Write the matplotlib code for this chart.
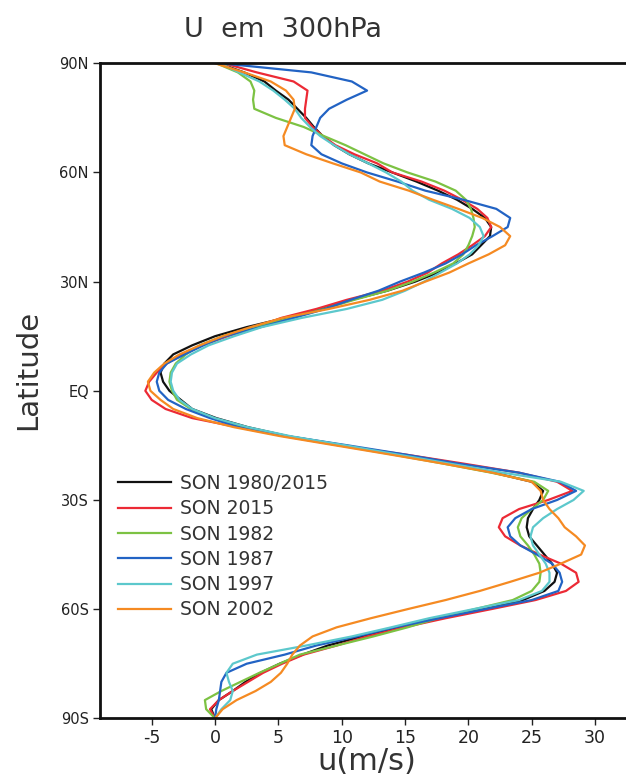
import matplotlib
matplotlib.use("Agg")
import matplotlib.pyplot as plt

lat = [90, 87.5, 85, 82.5, 80, 77.5, 75, 72.5, 70, 67.5, 65, 62.5, 60, 57.5, 55, 52.5,
       50, 47.5, 45, 42.5, 40, 37.5, 35, 32.5, 30, 27.5, 25, 22.5, 20, 17.5, 15, 12.5,
       10, 7.5, 5, 2.5, 0, -2.5, -5, -7.5, -10, -12.5, -15, -17.5, -20, -22.5, -25,
       -27.5, -30, -32.5, -35, -37.5, -40, -42.5, -45, -47.5, -50, -52.5, -55, -57.5,
       -60, -62.5, -65, -67.5, -70, -72.5, -75, -77.5, -80, -82.5, -85, -87.5, -90]

u_mean = [0.3, 2.3, 3.9, 4.8, 5.8, 6.5, 7.2, 7.8, 8.5, 9.4, 10.6, 12.1, 14.0, 15.9, 17.6, 19.1,
          20.3, 21.3, 21.8, 21.7, 21.0, 20.3, 19.0, 17.6, 15.8, 13.6, 10.8, 8.3, 5.5, 2.5, 0.0, -1.8,
          -3.3, -4.0, -4.3, -4.1, -3.6, -2.7, -1.8, 0.1, 2.6, 5.8, 10.2, 14.3, 18.3, 22.0, 25.0,
          25.9, 25.6, 25.1, 24.7, 24.6, 24.8, 25.4, 26.0, 26.6, 27.0, 26.8, 26.0, 24.3,
          21.2, 17.6, 14.4, 11.6, 8.9, 6.9, 5.1, 3.6, 2.4, 1.4, 0.3, -0.3, 0.0]

u_2015 = [0.7, 3.3, 6.2, 7.3, 7.2, 7.1, 7.1, 7.7, 8.5, 9.5, 11.0, 12.8, 14.0, 16.3, 18.1, 19.5,
          20.7, 21.5, 21.8, 21.3, 20.3, 19.2, 17.9, 16.8, 15.2, 13.2, 10.4, 8.0, 5.2, 3.3, 1.0, -1.0,
          -2.6, -3.8, -4.6, -5.2, -5.5, -5.0, -3.9, -1.8, 1.8, 5.5, 9.8, 15.0, 19.6, 24.0, 27.0,
          28.2, 26.3, 24.0, 22.7, 22.4, 22.9, 24.1, 25.6, 27.3, 28.5, 28.7, 27.7, 25.3,
          21.8, 18.2, 14.9, 12.0, 9.6, 7.0, 5.3, 3.8, 2.6, 1.4, 0.3, -0.4, 0.0]

u_1982 = [0.1, 1.8, 2.8, 3.1, 3.0, 3.1, 4.8, 7.0, 8.6, 10.3, 11.8, 13.3, 15.2, 17.4, 19.0, 19.8,
          20.2, 20.4, 20.5, 20.3, 20.0, 19.6, 18.8, 17.3, 15.6, 13.6, 11.0, 8.6, 6.0, 3.0, 0.6, -1.2,
          -2.3, -3.1, -3.5, -3.6, -3.4, -3.0, -1.9, -0.2, 2.3, 5.6, 9.8, 14.0, 18.0, 21.8, 25.2,
          26.3, 25.9, 25.0, 24.2, 23.9, 24.1, 24.7, 25.2, 25.6, 25.7, 25.6, 25.0, 23.5,
          20.5, 17.6, 15.2, 12.5, 9.6, 6.7, 5.1, 3.5, 2.0, 0.5, -0.8, -0.7, 0.0]

u_1987 = [0.5, 7.6, 10.8, 12.0, 10.4, 9.0, 8.3, 8.0, 7.7, 7.6, 8.4, 10.0, 12.0, 14.4, 16.6, 19.6,
          22.2, 23.3, 23.1, 21.9, 20.6, 19.5, 18.2, 16.5, 14.6, 12.9, 10.7, 8.7, 6.2, 3.6, 0.8, -0.9,
          -2.4, -3.8, -4.4, -4.6, -4.4, -3.7, -2.3, -0.4, 1.9, 5.8, 10.5, 15.0, 19.2, 24.0, 27.2,
          28.5, 27.0, 25.0, 23.7, 23.1, 23.3, 24.1, 25.4, 26.6, 27.2, 27.4, 27.1, 25.0,
          21.3, 17.7, 14.2, 11.2, 8.0, 5.5, 2.5, 0.9, 0.5, 0.4, 0.3, 0.1, 0.0]

u_1997 = [0.4, 1.9, 3.5, 4.6, 5.5, 6.3, 6.8, 7.5, 8.3, 9.4, 10.6, 12.1, 13.5, 14.7, 15.6, 16.9,
          18.7, 20.1, 20.9, 21.2, 20.8, 20.1, 19.1, 17.8, 16.5, 15.0, 13.2, 10.4, 6.8, 3.7, 1.5, -0.5,
          -1.9, -3.0, -3.4, -3.5, -3.3, -2.8, -1.8, 0.0, 2.6, 6.0, 10.3, 14.4, 18.5, 22.7, 27.3,
          29.1, 28.3, 27.0, 25.9, 25.1, 24.9, 25.1, 25.6, 26.1, 26.4, 26.4, 25.8, 24.0,
          20.4, 16.9, 13.9, 10.8, 7.2, 3.3, 1.4, 0.9, 1.1, 1.4, 1.2, 0.5, 0.0]

u_2002 = [0.0, 2.3, 4.4, 5.6, 6.2, 6.3, 6.0, 5.7, 5.4, 5.5, 7.2, 9.3, 11.5, 13.0, 15.3, 17.2,
          19.2, 21.1, 22.5, 23.3, 22.9, 21.6, 20.0, 18.5, 16.6, 14.8, 12.2, 9.0, 5.3, 2.8, 0.6, -1.2,
          -2.8, -4.0, -4.8, -5.3, -5.1, -4.3, -3.3, -1.4, 1.5, 5.2, 9.5, 13.8, 18.0, 21.9, 25.0,
          25.7, 25.9, 26.4, 27.1, 27.6, 28.5, 29.2, 28.9, 27.3, 25.6, 23.3, 20.9, 18.2,
          15.2, 12.3, 9.6, 7.7, 6.7, 6.1, 5.7, 5.2, 4.4, 3.2, 1.7, 0.6, 0.0]

labels = ["SON 1980/2015", "SON 2015", "SON 1982", "SON 1987", "SON 1997", "SON 2002"]
series = [u_mean, u_2015, u_1982, u_1987, u_1997, u_2002]
colors = ["#111111", "#ec2a35", "#7cc243", "#2263c4", "#5cc8cc", "#f58a22"]

ytick_vals = [90, 60, 30, 0, -30, -60, -90]
ytick_labels = ["90N", "60N", "30N", "EQ", "30S", "60S", "90S"]
xtick_vals = [-5, 0, 5, 10, 15, 20, 25, 30]

W, H = 626, 778
fig = plt.figure(figsize=(W / 100, H / 100), dpi=100)
ax = fig.add_axes([100 / W, (H - 718.3) / H, (W - 100) / W, (718.3 - 63.3) / H])

for u, lab, c in zip(series, labels, colors):
    ax.plot(u, lat, color=c, lw=1.6, label=lab, solid_joinstyle="round")

ax.set_xlim(-9.08, 32.44)
ax.set_ylim(-90, 90)
ax.set_yticks(ytick_vals)
ax.set_yticklabels(ytick_labels)
ax.set_xticks(xtick_vals)
ax.set_xticklabels([str(v) for v in xtick_vals])
ax.tick_params(direction="out", length=5, width=1, colors="#222222", pad=3)
ax.tick_params(axis="y", labelsize=10.5)
ax.tick_params(axis="x", labelsize=12.5)
for s in ["left", "bottom", "top"]:
    ax.spines[s].set_linewidth(2)
    ax.spines[s].set_color("#111111")
ax.spines["right"].set_visible(False)

fig.text(283 / W, 1 - 30 / H, "U  em  300hPa", fontsize=19.5, color="#333333",
         ha="center", va="center")
fig.text(28 / W, 1 - 370 / H, "Latitude", fontsize=21, color="#333333",
         ha="center", va="center", rotation=90)
fig.text(367 / W, 1 - 761 / H, "u(m/s)", fontsize=22, color="#333333",
         ha="center", va="center")

leg = ax.legend(loc="upper left", bbox_to_anchor=(18 / 526, (718.3 - 474) / 655),
                frameon=False, fontsize=13.5, handlelength=2.8, handletextpad=0.5,
                labelspacing=0.335, borderpad=0, borderaxespad=0)
for t in leg.get_texts():
    t.set_color("#333333")

fig.savefig("out.png", dpi=100)
